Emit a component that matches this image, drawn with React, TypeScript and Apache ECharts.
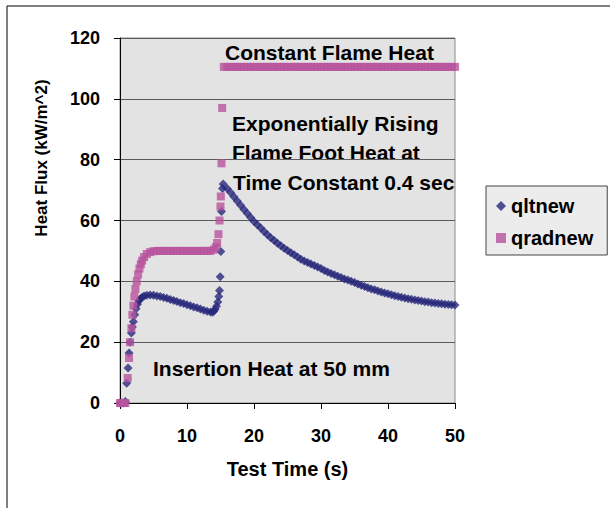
import React, { useEffect, useRef } from "react";
import * as echarts from "echarts";

const xTicks = [0, 10, 20, 30, 40, 50];
const yTicks = [0, 20, 40, 60, 80, 100, 120];

const qltTime = [
  0, 0.2, 0.4, 0.6, 0.8, 1.0, 1.2, 1.35, 1.5, 1.7, 1.85, 2.0, 2.2, 2.4, 2.6, 2.8, 3.0, 3.3, 3.6, 4.0,
  4.5, 5.0, 5.5, 6.0, 6.5, 7.0, 7.5, 8.0, 8.5, 9.0, 9.5, 10.0, 10.5, 11.0, 11.5, 12.0, 12.5, 13.0, 13.5, 13.8,
  14.0, 14.2, 14.4, 14.6, 14.75, 14.85, 14.95, 15.05, 15.15, 15.3, 15.4,
  16, 16.5, 17, 17.5, 18, 18.5, 19, 19.5, 20, 20.5, 21, 21.5, 22, 22.5, 23, 23.5, 24, 24.5, 25, 25.5,
  26, 26.5, 27, 27.5, 28, 28.5, 29, 29.5, 30, 30.5, 31, 31.5, 32, 32.5, 33, 33.5, 34, 34.5, 35, 35.5,
  36, 36.5, 37, 37.5, 38, 38.5, 39, 39.5, 40, 40.5, 41, 41.5, 42, 42.5, 43, 43.5, 44, 44.5, 45, 45.5,
  46, 46.5, 47, 47.5, 48, 48.5, 49, 49.5, 50,
];
const qltValues = [
  0, 0, 0, 0, 0.5, 6.5, 11.5, 16.4, 20, 23, 25, 26.7, 29, 31, 32.5, 33.5, 34.2, 34.8, 35.2, 35.4,
  35.5, 35.4, 35.2, 35.0, 34.7, 34.4, 34.0, 33.7, 33.4, 33.0, 32.7, 32.3, 32.0, 31.6, 31.3, 30.9, 30.5, 30.2, 29.9, 29.8,
  30.2, 30.8, 31.8, 33.2, 35.0, 37.0, 41.5, 49.8, 63.0, 70.5, 72.0,
  70.5, 69.2, 67.8, 66.4, 65.0, 63.6, 62.3, 61.0, 59.7, 58.6, 57.5, 56.4, 55.3, 54.3, 53.4, 52.5, 51.7, 50.9, 50.1, 49.4,
  48.7, 48.0, 47.3, 46.7, 46.2, 45.7, 45.2, 44.7, 44.2, 43.6, 43.1, 42.6, 42.2, 41.7, 41.3, 40.8, 40.4, 40.0, 39.6, 39.1,
  38.7, 38.3, 37.9, 37.5, 37.2, 36.8, 36.5, 36.2, 35.9, 35.6, 35.3, 35.0, 34.8, 34.5, 34.3, 34.1, 33.9, 33.7, 33.5, 33.3,
  33.2, 33.0, 32.9, 32.7, 32.6, 32.5, 32.4, 32.3, 32.2,
];

const qradTime = [
  0, 0.2, 0.4, 0.6, 0.8, 1.15, 1.35, 1.5, 1.7, 1.85, 2.0, 2.15, 2.3, 2.5, 2.7, 2.9, 3.1, 3.3, 3.6, 4.0,
  4.5, 5.0, 5.5, 6.0, 6.5, 7.0, 7.5, 8.0, 8.5, 9.0, 9.5, 10.0, 10.5, 11.0, 11.5, 12.0, 12.5, 13.0, 13.5,
  14.0, 14.3, 14.5, 14.7, 14.85, 15.0, 15.05, 15.15, 15.25,
  15.5, 16, 16.5, 17, 17.5, 18, 18.5, 19, 19.5, 20, 20.5, 21, 21.5, 22, 22.5, 23, 23.5, 24, 24.5, 25, 25.5,
  26, 26.5, 27, 27.5, 28, 28.5, 29, 29.5, 30, 30.5, 31, 31.5, 32, 32.5, 33, 33.5, 34, 34.5, 35, 35.5,
  36, 36.5, 37, 37.5, 38, 38.5, 39, 39.5, 40, 40.5, 41, 41.5, 42, 42.5, 43, 43.5, 44, 44.5, 45, 45.5,
  46, 46.5, 47, 47.5, 48, 48.5, 49, 49.5, 50,
];
const qradValues = [
  0, 0, 0, 0, 0, 8.2, 14.8, 20, 24.6, 29, 32, 35, 37.5, 40, 42.3, 44.2, 45.6, 46.8, 48, 49,
  49.6, 49.9, 50, 50, 50, 50, 50, 50, 50, 50, 50, 50, 50, 50, 50, 50, 50, 50, 50,
  50.4, 51.2, 52.6, 55.5, 60, 64.6, 67.9, 78.8, 97,
  110.5, 110.5, 110.5, 110.5, 110.5, 110.5, 110.5, 110.5, 110.5, 110.5, 110.5, 110.5, 110.5, 110.5, 110.5, 110.5, 110.5, 110.5, 110.5, 110.5, 110.5,
  110.5, 110.5, 110.5, 110.5, 110.5, 110.5, 110.5, 110.5, 110.5, 110.5, 110.5, 110.5, 110.5, 110.5, 110.5, 110.5, 110.5, 110.5, 110.5, 110.5,
  110.5, 110.5, 110.5, 110.5, 110.5, 110.5, 110.5, 110.5, 110.5, 110.5, 110.5, 110.5, 110.5, 110.5, 110.5, 110.5, 110.5, 110.5, 110.5, 110.5,
  110.5, 110.5, 110.5, 110.5, 110.5, 110.5, 110.5, 110.5, 110.5,
];

const seriesNames = ["qltnew", "qradnew"];
const annotations = [
  { text: "Constant Flame Heat", x: 225, y: 52 },
  { text: "Exponentially Rising", x: 232, y: 123 },
  { text: "Flame Foot Heat at", x: 232, y: 152 },
  { text: "Time Constant 0.4 sec", x: 233, y: 182 },
  { text: "Insertion Heat at 50 mm", x: 153, y: 368 },
];

const FONT = "'Liberation Sans', Arial, sans-serif";
const NAVY = "#27277a";
const PINK = "#b8529e";

export default function App() {
  const ref = useRef<HTMLDivElement>(null);
  useEffect(() => {
    if (!ref.current) return;
    const chart = echarts.init(ref.current, null, { renderer: "svg" });
    const toPairs = (xs: number[], ys: number[]) => xs.map((x, i) => [x, ys[i]]);
    chart.setOption({
      animation: false,
      backgroundColor: "#ffffff",
      textStyle: { fontFamily: FONT },
      grid: {
        left: 120,
        right: 155,
        top: 38,
        bottom: 105,
        show: true,
        backgroundColor: "#e3e3e3",
        borderColor: "#8a8a8a",
        borderWidth: 1,
      },
      xAxis: {
        type: "value",
        min: xTicks[0],
        max: xTicks[xTicks.length - 1],
        interval: 10,
        name: "Test Time (s)",
        nameLocation: "middle",
        nameGap: 56,
        nameTextStyle: { fontFamily: FONT, fontWeight: "bold", fontSize: 20, color: "#000" },
        axisLine: { show: true, onZero: false, lineStyle: { color: "#000", width: 1 } },
        axisTick: { show: true, inside: false, length: 6, lineStyle: { color: "#000" } },
        axisLabel: { margin: 24, fontFamily: FONT, fontWeight: "bold", fontSize: 18, color: "#000" },
        splitLine: { show: false },
      },
      yAxis: {
        type: "value",
        min: yTicks[0],
        max: yTicks[yTicks.length - 1],
        interval: 20,
        axisLine: { show: true, lineStyle: { color: "#000", width: 1 } },
        axisTick: { show: true, inside: false, length: 6, lineStyle: { color: "#000" } },
        axisLabel: { margin: 20, fontFamily: FONT, fontWeight: "bold", fontSize: 18, color: "#000" },
        splitLine: { show: true, lineStyle: { color: "#5a5a5a", width: 1 } },
      },
      legend: {
        orient: "vertical",
        left: 486,
        top: 186,
        padding: [9, 14, 6, 10],
        itemGap: 10,
        itemWidth: 10,
        itemHeight: 10,
        backgroundColor: "#ececec",
        borderColor: "#444",
        borderWidth: 1,
        textStyle: { fontFamily: FONT, fontWeight: "bold", fontSize: 20, color: "#000", lineHeight: 22 },
        data: [
          { name: seriesNames[0], icon: "diamond" },
          { name: seriesNames[1], icon: "rect" },
        ],
      },
      graphic: [
        {
          type: "rect",
          shape: { x: 7, y: 6, width: 700, height: 600 },
          style: { fill: "none", stroke: "#000", lineWidth: 1 },
          silent: true,
        },
        {
          type: "text",
          x: 41,
          y: 158,
          rotation: Math.PI / 2,
          style: {
            text: "Heat Flux (kW/m^2)",
            fontFamily: FONT,
            fontWeight: "bold",
            fontSize: 17,
            fill: "#000",
            align: "center",
            verticalAlign: "middle",
          },
        },
        ...annotations.map((a) => ({
          type: "text",
          x: a.x,
          y: a.y,
          style: {
            text: a.text,
            fontFamily: FONT,
            fontWeight: "bold",
            fontSize: 21,
            fill: "#000",
            align: "left",
            verticalAlign: "middle",
          },
        })),
      ],
      series: [
        {
          name: seriesNames[0],
          type: "scatter",
          symbol: "diamond",
          symbolSize: 9,
          itemStyle: { color: NAVY },
          data: toPairs(qltTime, qltValues),
        },
        {
          name: seriesNames[1],
          type: "scatter",
          symbol: "rect",
          symbolSize: 8,
          itemStyle: { color: PINK },
          data: toPairs(qradTime, qradValues),
        },
      ],
    });
    return () => chart.dispose();
  }, []);
  return (
    <div
      ref={ref}
      style={{ position: "fixed", left: 0, top: 0, width: 610, height: 508 }}
    />
  );
}
